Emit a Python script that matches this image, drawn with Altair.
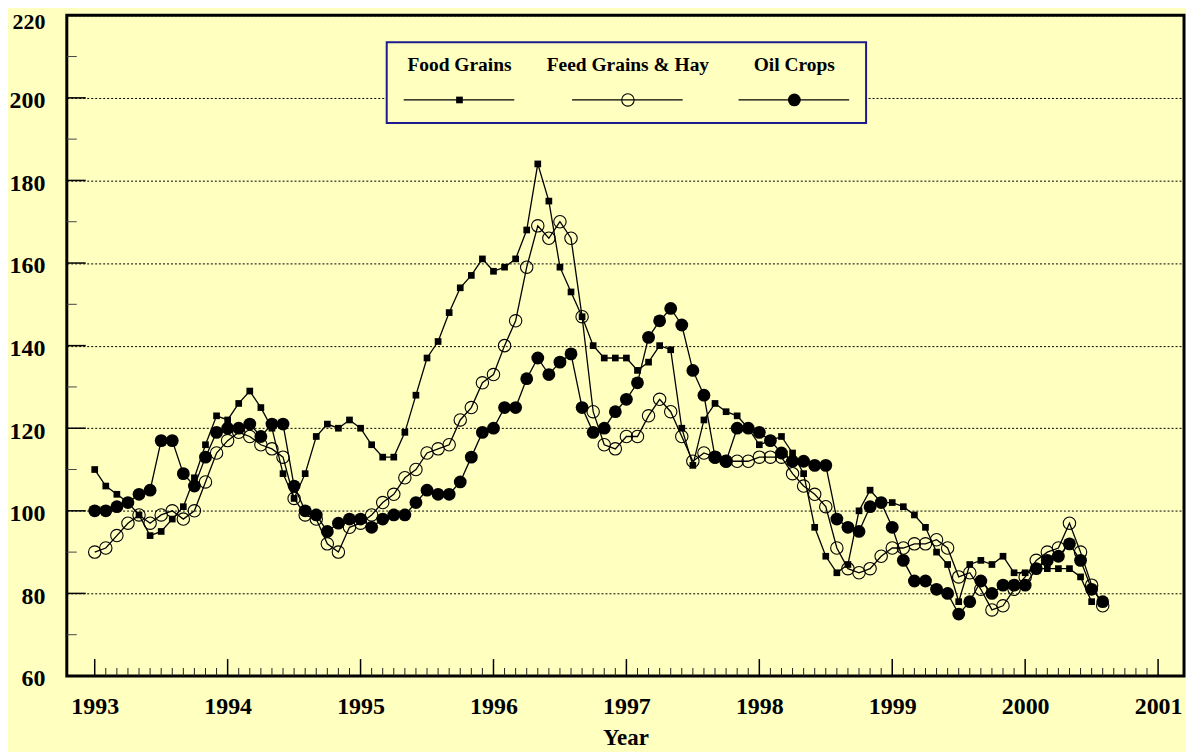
import altair as alt
import pandas as pd

# ---- data (monthly, starting January 1993) ----
start_year = 1993
food_grains = [110, 106, 104, 102, 99, 94, 95, 98, 101, 108, 116, 123,
               122, 126, 129, 125, 120, 109, 103, 109, 118, 121, 120, 122,
               120, 116, 113, 113, 119, 128, 137, 141, 148, 154, 157, 161,
               158, 159, 161, 168, 184, 175, 159, 153, 147, 140, 137, 137,
               137, 134, 136, 140, 139, 120, 111, 122, 126, 124, 123, 120,
               116, 117, 118, 114, 109, 96, 89, 85, 87, 100, 105, 102,
               102, 101, 99, 96, 90, 87, 78, 87, 88, 87, 89, 85,
               85, 86, 86, 86, 86, 84, 78]
feed_grains_hay = [90, 91, 94, 97, 99, 97, 99, 100, 98, 100, 107, 114,
                   117, 119, 118, 116, 115, 113, 103, 99, 98, 92, 90, 96,
                   97, 99, 102, 104, 108, 110, 114, 115, 116, 122, 125, 131,
                   133, 140, 146, 159, 169, 166, 170, 166, 147, 124, 116, 115,
                   118, 118, 123, 127, 124, 118, 112, 114, 113, 112, 112, 112,
                   113, 113, 113, 109, 106, 104, 101, 91, 86, 85, 86, 89,
                   91, 91, 92, 92, 93, 91, 84, 85, 81, 76, 77, 81,
                   84, 88, 90, 91, 97, 90, 82, 77]
oil_crops = [100, 100, 101, 102, 104, 105, 117, 117, 109, 106, 113, 119,
             120, 120, 121, 118, 121, 121, 106, 100, 99, 95, 97, 98,
             98, 96, 98, 99, 99, 102, 105, 104, 104, 107, 113, 119,
             120, 125, 125, 132, 137, 133, 136, 138, 125, 119, 120, 124,
             127, 131, 142, 146, 149, 145, 134, 128, 113, 112, 120, 120,
             119, 117, 114, 112, 112, 111, 111, 98, 96, 95, 101, 102,
             96, 88, 83, 83, 81, 80, 75, 78, 83, 80, 82, 82,
             82, 86, 88, 89, 92, 88, 81, 78]
series_names = ["Food Grains", "Feed Grains & Hay", "Oil Crops"]
year_labels = list(range(1993, 2002))
y_labels = [60, 80, 100, 120, 140, 160, 180, 200, 220]
y_minor = [70, 90, 110, 130, 150, 170, 190, 210]

BG = "#FFFFC0"
FONT = "Liberation Serif"
W, H = 1121, 663

def frame(vals, name):
    return pd.DataFrame({"t": [start_year + i / 12 for i in range(len(vals))],
                         "v": vals, "s": name})

df_food = frame(food_grains, series_names[0])
df_feed = frame(feed_grains_hay, series_names[1])
df_oil = frame(oil_crops, series_names[2])

months = pd.DataFrame({"t": [start_year + i / 12 for i in range(97)],
                       "major": [i % 12 == 0 for i in range(97)]})
ymin_df = pd.DataFrame({"v": y_minor})
ymaj_df = pd.DataFrame({"v": y_labels[1:-1]})
one = pd.DataFrame({"a": [0]})

xscale = alt.Scale(domain=[1992.79, 2001.195], nice=False, zero=False)
yscale = alt.Scale(domain=[60, 220], nice=False, zero=False)

top_test = "datum.value == 220"
xax = alt.Axis(values=year_labels, format="d", ticks=False, domain=False, grid=False,
               labelFont=FONT, labelFontSize=24, labelFontWeight="bold", labelColor="black",
               labelPadding=19, labelFlush=False, labelOverlap=False,
               title="Year", titleFont=FONT, titleFontSize=23, titleFontWeight="bold",
               titleColor="black", titlePadding=8)
yax = alt.Axis(values=y_labels, ticks=False, domain=False, grid=True, gridDash=[2, 2],
               gridColor="black", gridWidth=1, gridOpacity=1,
               labelFont=FONT, labelFontWeight="bold", labelColor="black",
               labelFontSize={"condition": {"test": top_test, "value": 22}, "value": 24},
               labelOffset={"condition": {"test": top_test, "value": 6}, "value": 3},
               labelPadding=22, labelFlush=False, labelOverlap=False, title=None)

def X():
    return alt.X("t:Q", scale=xscale, axis=xax, title="Year")

def Y():
    return alt.Y("v:Q", scale=yscale, axis=yax, title=None)

LW = 1.3

feed_line = alt.Chart(df_feed).mark_line(color="black", strokeWidth=LW).encode(x=X(), y=Y())
feed_pts = alt.Chart(df_feed).mark_point(shape="circle", filled=False, size=155,
                                         stroke="black", strokeWidth=1.1, opacity=1).encode(x=X(), y=Y())
food_line = alt.Chart(df_food).mark_line(color="black", strokeWidth=LW).encode(x=X(), y=Y())
food_pts = alt.Chart(df_food).mark_square(size=45, color="black", opacity=1).encode(x=X(), y=Y())
oil_line = alt.Chart(df_oil).mark_line(color="black", strokeWidth=LW).encode(x=X(), y=Y())
oil_pts = alt.Chart(df_oil).mark_circle(size=165, color="black", opacity=1).encode(x=X(), y=Y())

# inward ticks
x_minor = alt.Chart(months).transform_filter("!datum.major").mark_rule(color="#222", strokeWidth=1).encode(
    x=X(), y=alt.value(H), y2=alt.value(H - 8))
x_major = alt.Chart(months).transform_filter("datum.major").mark_rule(color="black", strokeWidth=1.5).encode(
    x=X(), y=alt.value(H), y2=alt.value(H - 17))
y_minor_t = alt.Chart(ymin_df).mark_rule(color="#444", strokeWidth=1).encode(
    y=Y(), x=alt.value(0), x2=alt.value(10))
y_major_t = alt.Chart(ymaj_df).mark_rule(color="black", strokeWidth=1.5).encode(
    y=Y(), x=alt.value(0), x2=alt.value(19))

# legend box
leg_box = alt.Chart(one).mark_rect(fill=BG, stroke="#1C1C8C", strokeWidth=2).encode(
    x=alt.value(321), x2=alt.value(802), y=alt.value(27), y2=alt.value(108))
leg_layers = [leg_box]
centers = [394, 563, 730]
for name, cx in zip(series_names, centers):
    leg_layers.append(alt.Chart(one).mark_text(font=FONT, fontSize=19.5, fontWeight="bold",
                                               color="black", align="center", baseline="middle").encode(
        x=alt.value(cx), y=alt.value(50), text=alt.value(name)))
    leg_layers.append(alt.Chart(one).mark_rule(color="black", strokeWidth=LW).encode(
        x=alt.value(cx - 56), x2=alt.value(cx + 55), y=alt.value(85)))
leg_layers.append(alt.Chart(one).mark_square(size=45, color="black", opacity=1).encode(
    x=alt.value(centers[0]), y=alt.value(85)))
leg_layers.append(alt.Chart(one).mark_point(shape="circle", filled=False, size=155, stroke="black",
                                            strokeWidth=1.1, opacity=1).encode(
    x=alt.value(centers[1]), y=alt.value(85)))
leg_layers.append(alt.Chart(one).mark_circle(size=165, color="black", opacity=1).encode(
    x=alt.value(centers[2]), y=alt.value(85)))

chart = alt.layer(
    feed_line, x_minor, x_major, y_minor_t, y_major_t,
    feed_pts, food_line, food_pts, oil_line, oil_pts,
    *leg_layers
).properties(
    width=W, height=H,
    autosize=alt.AutoSizeParams(type="none"),
    padding={"left": 59, "top": 6, "right": 2, "bottom": 80},
).configure(background=BG).configure_view(stroke="black", strokeWidth=3)

chart.save("out.html", embed_options={"renderer": "svg", "actions": False})
